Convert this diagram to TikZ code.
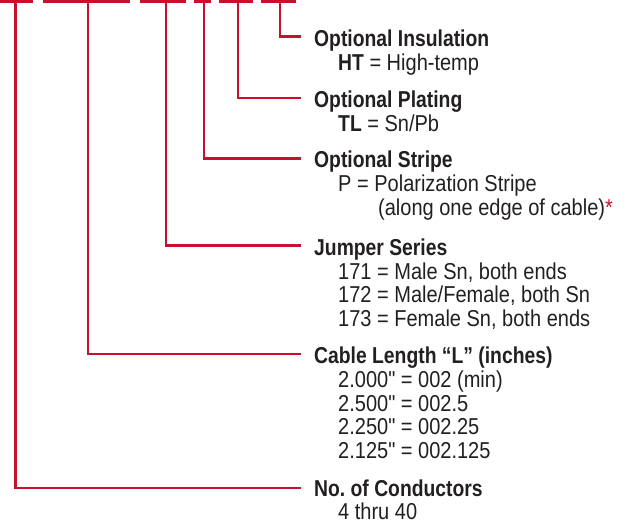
\documentclass[tikz,border=0pt]{standalone}
\usepackage{fontspec}
\setmainfont{Liberation Sans}[FakeStretch=0.87]
\newfontfamily\hdfont{Liberation Sans}[FakeStretch=0.84]
\newfontfamily\qfont{Liberation Sans}[FakeStretch=0.87,Ligatures=TeXOff]
\newcommand{\inch}{{\qfont"}}
\definecolor{pnred}{RGB}{200,16,46}
\definecolor{txt}{RGB}{35,31,32}
\begin{document}
\begin{tikzpicture}[x=1pt,y=-1pt,
  lead/.style={draw=pnred,line width=2.6pt,line join=miter},
  blank/.style={draw=pnred,line width=3pt},
  head/.style={anchor=base west,inner sep=0pt,text=txt,
    font=\hdfont\bfseries\fontsize{23}{23.5}\selectfont},
  sub/.style={anchor=base west,inner sep=0pt,text=txt,
    font=\fontsize{23}{23.5}\selectfont}]
\useasboundingbox (0,0) rectangle (626,525);

% part-number blanks
\draw[blank] (0,1.5) -- (33,1.5);
\draw[blank] (43,1.5) -- (130,1.5);
\draw[blank] (140,1.5) -- (186,1.5);
\draw[blank] (194,1.5) -- (211,1.5);
\draw[blank] (219,1.5) -- (253,1.5);
\draw[blank] (261,1.5) -- (296,1.5);

\coordinate (t1) at (15.5,1);
\coordinate (t2) at (88,1);
\coordinate (t3) at (166,1);
\coordinate (t4) at (204,1);
\coordinate (t5) at (238,1);
\coordinate (t6) at (280,1);

% headings
\node[head] (h1) at (314,46) {Optional Insulation};
\node[sub]  (s1a) at (338,70) {\textbf{\hdfont HT} = High-temp};

\node[head] (h2) at (314,107) {Optional Plating};
\node[sub]  (s2a) at (338,131) {\textbf{\hdfont TL} = Sn/Pb};

\node[head] (h3) at (314,167.5) {Optional Stripe};
\node[sub]  (s3a) at (338,191.5) {P = Polarization Stripe};
\node[sub]  (s3b) at (378,215) {(along one edge of cable){\color{pnred}*}};

\node[head] (h4) at (314,255) {Jumper Series};
\node[sub]  (s4a) at (338,279) {171 = Male Sn, both ends};
\node[sub]  (s4b) at (338,302.5) {172 = Male/Female, both Sn};
\node[sub]  (s4c) at (338,326) {173 = Female Sn, both ends};

\node[head] (h5) at (314,363.5) {Cable Length “L” (inches)};
\node[sub]  (s5a) at (338,387.5) {2.000\inch{} = 002 (min)};
\node[sub]  (s5b) at (338,411) {2.500\inch{} = 002.5};
\node[sub]  (s5c) at (338,434.5) {2.250\inch{} = 002.25};
\node[sub]  (s5d) at (338,458) {2.125\inch{} = 002.125};

\node[head] (h6) at (314,496) {No.\ of Conductors};
\node[sub]  (s6a) at (338,519.5) {4 thru 40};

% leaders
\draw[lead] (t6) |- ([shift={(-13pt,9.5pt)}]h1.base west);
\draw[lead] (t5) |- ([shift={(-13pt,9pt)}]h2.base west);
\draw[lead] (t4) |- ([shift={(-13pt,9pt)}]h3.base west);
\draw[lead] (t3) |- ([shift={(-13pt,9.5pt)}]h4.base west);
\draw[lead] (t2) |- ([shift={(-13pt,9.5pt)}]h5.base west);
\draw[lead] (t1) |- ([shift={(-13pt,8pt)}]h6.base west);
\end{tikzpicture}
\end{document}
